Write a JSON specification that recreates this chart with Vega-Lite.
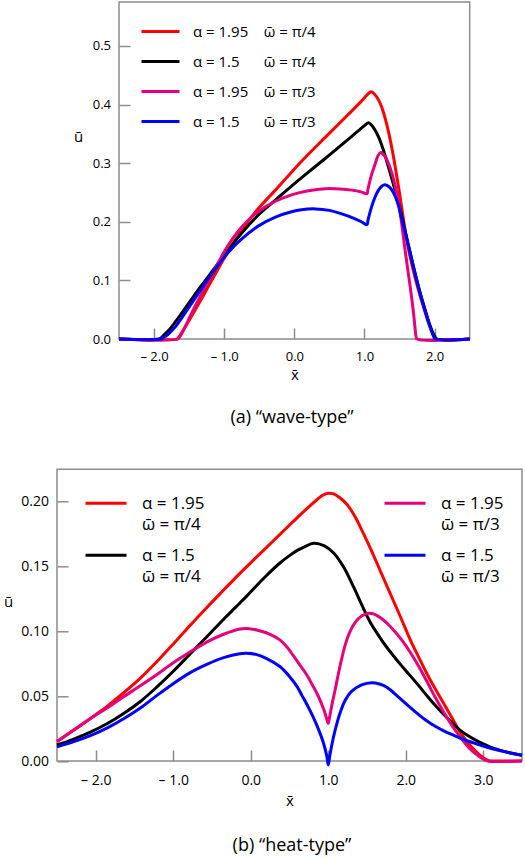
{
  "$schema": "https://vega.github.io/schema/vega-lite/v6.json",
  "autosize": {"type": "pad"},
  "padding": {"left": 3, "top": 1, "right": 3, "bottom": 5},
  "background": "white",
  "bounds": "flush",
  "spacing": 130.3,
  "datasets": {
    "wave": [
      {"s": "α = 1.95, ω̄ = π/4", "x": -2.5, "u": 0},
      {"s": "α = 1.95, ω̄ = π/4", "x": -1.67, "u": 0},
      {"s": "α = 1.95, ω̄ = π/4", "x": -1.655, "u": 0.002},
      {"s": "α = 1.95, ω̄ = π/4", "x": -1.6, "u": 0.012},
      {"s": "α = 1.95, ω̄ = π/4", "x": -1.47, "u": 0.038},
      {"s": "α = 1.95, ω̄ = π/4", "x": -1.35, "u": 0.063},
      {"s": "α = 1.95, ω̄ = π/4", "x": -1.23, "u": 0.089},
      {"s": "α = 1.95, ω̄ = π/4", "x": -1.1, "u": 0.117},
      {"s": "α = 1.95, ω̄ = π/4", "x": -0.99, "u": 0.14},
      {"s": "α = 1.95, ω̄ = π/4", "x": -0.75, "u": 0.186},
      {"s": "α = 1.95, ω̄ = π/4", "x": -0.51, "u": 0.223},
      {"s": "α = 1.95, ω̄ = π/4", "x": -0.27, "u": 0.254},
      {"s": "α = 1.95, ω̄ = π/4", "x": 0.1, "u": 0.303},
      {"s": "α = 1.95, ω̄ = π/4", "x": 0.44, "u": 0.344},
      {"s": "α = 1.95, ω̄ = π/4", "x": 0.75, "u": 0.381},
      {"s": "α = 1.95, ω̄ = π/4", "x": 0.95, "u": 0.405},
      {"s": "α = 1.95, ω̄ = π/4", "x": 1.04, "u": 0.417},
      {"s": "α = 1.95, ω̄ = π/4", "x": 1.095, "u": 0.422},
      {"s": "α = 1.95, ω̄ = π/4", "x": 1.14, "u": 0.418},
      {"s": "α = 1.95, ω̄ = π/4", "x": 1.2, "u": 0.408},
      {"s": "α = 1.95, ω̄ = π/4", "x": 1.25, "u": 0.394},
      {"s": "α = 1.95, ω̄ = π/4", "x": 1.32, "u": 0.365},
      {"s": "α = 1.95, ω̄ = π/4", "x": 1.39, "u": 0.326},
      {"s": "α = 1.95, ω̄ = π/4", "x": 1.49, "u": 0.256},
      {"s": "α = 1.95, ω̄ = π/4", "x": 1.58, "u": 0.185},
      {"s": "α = 1.95, ω̄ = π/4", "x": 1.63, "u": 0.152},
      {"s": "α = 1.95, ω̄ = π/4", "x": 1.7, "u": 0.115},
      {"s": "α = 1.95, ω̄ = π/4", "x": 1.77, "u": 0.083},
      {"s": "α = 1.95, ω̄ = π/4", "x": 1.866, "u": 0.045},
      {"s": "α = 1.95, ω̄ = π/4", "x": 1.92, "u": 0.025},
      {"s": "α = 1.95, ω̄ = π/4", "x": 1.96, "u": 0.013},
      {"s": "α = 1.95, ω̄ = π/4", "x": 2.0, "u": 0.004},
      {"s": "α = 1.95, ω̄ = π/4", "x": 2.03, "u": 0},
      {"s": "α = 1.95, ω̄ = π/4", "x": 2.5, "u": 0},
      {"s": "α = 1.5, ω̄ = π/4", "x": -2.5, "u": 0},
      {"s": "α = 1.5, ω̄ = π/4", "x": -1.93, "u": 0},
      {"s": "α = 1.5, ω̄ = π/4", "x": -1.9, "u": 0.002},
      {"s": "α = 1.5, ω̄ = π/4", "x": -1.85, "u": 0.008},
      {"s": "α = 1.5, ω̄ = π/4", "x": -1.78, "u": 0.016},
      {"s": "α = 1.5, ω̄ = π/4", "x": -1.71, "u": 0.027},
      {"s": "α = 1.5, ω̄ = π/4", "x": -1.6, "u": 0.045},
      {"s": "α = 1.5, ω̄ = π/4", "x": -1.47, "u": 0.067},
      {"s": "α = 1.5, ω̄ = π/4", "x": -1.35, "u": 0.087},
      {"s": "α = 1.5, ω̄ = π/4", "x": -1.23, "u": 0.106},
      {"s": "α = 1.5, ω̄ = π/4", "x": -1.1, "u": 0.127},
      {"s": "α = 1.5, ω̄ = π/4", "x": -0.99, "u": 0.145},
      {"s": "α = 1.5, ω̄ = π/4", "x": -0.75, "u": 0.181},
      {"s": "α = 1.5, ω̄ = π/4", "x": -0.51, "u": 0.212},
      {"s": "α = 1.5, ω̄ = π/4", "x": -0.27, "u": 0.237},
      {"s": "α = 1.5, ω̄ = π/4", "x": -0.04, "u": 0.261},
      {"s": "α = 1.5, ω̄ = π/4", "x": 0.1, "u": 0.275},
      {"s": "α = 1.5, ω̄ = π/4", "x": 0.44, "u": 0.308},
      {"s": "α = 1.5, ω̄ = π/4", "x": 0.75, "u": 0.339},
      {"s": "α = 1.5, ω̄ = π/4", "x": 0.91, "u": 0.355},
      {"s": "α = 1.5, ω̄ = π/4", "x": 1.0, "u": 0.364},
      {"s": "α = 1.5, ω̄ = π/4", "x": 1.057, "u": 0.369},
      {"s": "α = 1.5, ω̄ = π/4", "x": 1.1, "u": 0.365},
      {"s": "α = 1.5, ω̄ = π/4", "x": 1.2, "u": 0.345},
      {"s": "α = 1.5, ω̄ = π/4", "x": 1.27, "u": 0.322},
      {"s": "α = 1.5, ω̄ = π/4", "x": 1.34, "u": 0.294},
      {"s": "α = 1.5, ω̄ = π/4", "x": 1.49, "u": 0.23},
      {"s": "α = 1.5, ω̄ = π/4", "x": 1.63, "u": 0.158},
      {"s": "α = 1.5, ω̄ = π/4", "x": 1.77, "u": 0.089},
      {"s": "α = 1.5, ω̄ = π/4", "x": 1.866, "u": 0.049},
      {"s": "α = 1.5, ω̄ = π/4", "x": 1.92, "u": 0.028},
      {"s": "α = 1.5, ω̄ = π/4", "x": 1.96, "u": 0.015},
      {"s": "α = 1.5, ω̄ = π/4", "x": 2.0, "u": 0.005},
      {"s": "α = 1.5, ω̄ = π/4", "x": 2.03, "u": 0},
      {"s": "α = 1.5, ω̄ = π/4", "x": 2.5, "u": 0},
      {"s": "α = 1.95, ω̄ = π/3", "x": -2.5, "u": 0},
      {"s": "α = 1.95, ω̄ = π/3", "x": -1.66, "u": 0},
      {"s": "α = 1.95, ω̄ = π/3", "x": -1.645, "u": 0.002},
      {"s": "α = 1.95, ω̄ = π/3", "x": -1.58, "u": 0.015},
      {"s": "α = 1.95, ω̄ = π/3", "x": -1.47, "u": 0.043},
      {"s": "α = 1.95, ω̄ = π/3", "x": -1.35, "u": 0.071},
      {"s": "α = 1.95, ω̄ = π/3", "x": -1.23, "u": 0.099},
      {"s": "α = 1.95, ω̄ = π/3", "x": -1.1, "u": 0.127},
      {"s": "α = 1.95, ω̄ = π/3", "x": -0.99, "u": 0.151},
      {"s": "α = 1.95, ω̄ = π/3", "x": -0.87, "u": 0.173},
      {"s": "α = 1.95, ω̄ = π/3", "x": -0.75, "u": 0.191},
      {"s": "α = 1.95, ω̄ = π/3", "x": -0.63, "u": 0.206},
      {"s": "α = 1.95, ω̄ = π/3", "x": -0.51, "u": 0.218},
      {"s": "α = 1.95, ω̄ = π/3", "x": -0.27, "u": 0.235},
      {"s": "α = 1.95, ω̄ = π/3", "x": -0.04, "u": 0.246},
      {"s": "α = 1.95, ω̄ = π/3", "x": 0.2, "u": 0.253},
      {"s": "α = 1.95, ω̄ = π/3", "x": 0.44, "u": 0.2565},
      {"s": "α = 1.95, ω̄ = π/3", "x": 0.65, "u": 0.256},
      {"s": "α = 1.95, ω̄ = π/3", "x": 0.82, "u": 0.254},
      {"s": "α = 1.95, ω̄ = π/3", "x": 0.95, "u": 0.251},
      {"s": "α = 1.95, ω̄ = π/3", "x": 1.035, "u": 0.248},
      {"s": "α = 1.95, ω̄ = π/3", "x": 1.05, "u": 0.256},
      {"s": "α = 1.95, ω̄ = π/3", "x": 1.1, "u": 0.28},
      {"s": "α = 1.95, ω̄ = π/3", "x": 1.15, "u": 0.298},
      {"s": "α = 1.95, ω̄ = π/3", "x": 1.19, "u": 0.312},
      {"s": "α = 1.95, ω̄ = π/3", "x": 1.225, "u": 0.318},
      {"s": "α = 1.95, ω̄ = π/3", "x": 1.26, "u": 0.316},
      {"s": "α = 1.95, ω̄ = π/3", "x": 1.3, "u": 0.31},
      {"s": "α = 1.95, ω̄ = π/3", "x": 1.34, "u": 0.3},
      {"s": "α = 1.95, ω̄ = π/3", "x": 1.39, "u": 0.283},
      {"s": "α = 1.95, ω̄ = π/3", "x": 1.44, "u": 0.26},
      {"s": "α = 1.95, ω̄ = π/3", "x": 1.49, "u": 0.23},
      {"s": "α = 1.95, ω̄ = π/3", "x": 1.53, "u": 0.197},
      {"s": "α = 1.95, ω̄ = π/3", "x": 1.57, "u": 0.16},
      {"s": "α = 1.95, ω̄ = π/3", "x": 1.6, "u": 0.133},
      {"s": "α = 1.95, ω̄ = π/3", "x": 1.64, "u": 0.099},
      {"s": "α = 1.95, ω̄ = π/3", "x": 1.676, "u": 0.067},
      {"s": "α = 1.95, ω̄ = π/3", "x": 1.7, "u": 0.043},
      {"s": "α = 1.95, ω̄ = π/3", "x": 1.72, "u": 0.02},
      {"s": "α = 1.95, ω̄ = π/3", "x": 1.735, "u": 0.004},
      {"s": "α = 1.95, ω̄ = π/3", "x": 1.75, "u": 0},
      {"s": "α = 1.95, ω̄ = π/3", "x": 2.5, "u": 0},
      {"s": "α = 1.5, ω̄ = π/3", "x": -2.5, "u": 0},
      {"s": "α = 1.5, ω̄ = π/3", "x": -1.9, "u": 0},
      {"s": "α = 1.5, ω̄ = π/3", "x": -1.87, "u": 0.002},
      {"s": "α = 1.5, ω̄ = π/3", "x": -1.8, "u": 0.008},
      {"s": "α = 1.5, ω̄ = π/3", "x": -1.71, "u": 0.019},
      {"s": "α = 1.5, ω̄ = π/3", "x": -1.6, "u": 0.037},
      {"s": "α = 1.5, ω̄ = π/3", "x": -1.47, "u": 0.06},
      {"s": "α = 1.5, ω̄ = π/3", "x": -1.35, "u": 0.081},
      {"s": "α = 1.5, ω̄ = π/3", "x": -1.23, "u": 0.102},
      {"s": "α = 1.5, ω̄ = π/3", "x": -1.1, "u": 0.124},
      {"s": "α = 1.5, ω̄ = π/3", "x": -0.99, "u": 0.141},
      {"s": "α = 1.5, ω̄ = π/3", "x": -0.87, "u": 0.157},
      {"s": "α = 1.5, ω̄ = π/3", "x": -0.75, "u": 0.171},
      {"s": "α = 1.5, ω̄ = π/3", "x": -0.51, "u": 0.193},
      {"s": "α = 1.5, ω̄ = π/3", "x": -0.27, "u": 0.208},
      {"s": "α = 1.5, ω̄ = π/3", "x": -0.04, "u": 0.217},
      {"s": "α = 1.5, ω̄ = π/3", "x": 0.1, "u": 0.2205},
      {"s": "α = 1.5, ω̄ = π/3", "x": 0.3, "u": 0.222},
      {"s": "α = 1.5, ω̄ = π/3", "x": 0.5, "u": 0.2195},
      {"s": "α = 1.5, ω̄ = π/3", "x": 0.676, "u": 0.2135},
      {"s": "α = 1.5, ω̄ = π/3", "x": 0.85, "u": 0.206},
      {"s": "α = 1.5, ω̄ = π/3", "x": 0.95, "u": 0.2005},
      {"s": "α = 1.5, ω̄ = π/3", "x": 1.035, "u": 0.195},
      {"s": "α = 1.5, ω̄ = π/3", "x": 1.05, "u": 0.203},
      {"s": "α = 1.5, ω̄ = π/3", "x": 1.1, "u": 0.225},
      {"s": "α = 1.5, ω̄ = π/3", "x": 1.15, "u": 0.242},
      {"s": "α = 1.5, ω̄ = π/3", "x": 1.2, "u": 0.254},
      {"s": "α = 1.5, ω̄ = π/3", "x": 1.25, "u": 0.261},
      {"s": "α = 1.5, ω̄ = π/3", "x": 1.28, "u": 0.263},
      {"s": "α = 1.5, ω̄ = π/3", "x": 1.32, "u": 0.262},
      {"s": "α = 1.5, ω̄ = π/3", "x": 1.38, "u": 0.256},
      {"s": "α = 1.5, ω̄ = π/3", "x": 1.44, "u": 0.243},
      {"s": "α = 1.5, ω̄ = π/3", "x": 1.49, "u": 0.225},
      {"s": "α = 1.5, ω̄ = π/3", "x": 1.53, "u": 0.205},
      {"s": "α = 1.5, ω̄ = π/3", "x": 1.58, "u": 0.182},
      {"s": "α = 1.5, ω̄ = π/3", "x": 1.63, "u": 0.158},
      {"s": "α = 1.5, ω̄ = π/3", "x": 1.7, "u": 0.122},
      {"s": "α = 1.5, ω̄ = π/3", "x": 1.77, "u": 0.089},
      {"s": "α = 1.5, ω̄ = π/3", "x": 1.84, "u": 0.058},
      {"s": "α = 1.5, ω̄ = π/3", "x": 1.91, "u": 0.03},
      {"s": "α = 1.5, ω̄ = π/3", "x": 1.96, "u": 0.012},
      {"s": "α = 1.5, ω̄ = π/3", "x": 1.99, "u": 0.003},
      {"s": "α = 1.5, ω̄ = π/3", "x": 2.01, "u": 0},
      {"s": "α = 1.5, ω̄ = π/3", "x": 2.5, "u": 0}
    ],
    "heat": [
      {"s": "α = 1.95, ω̄ = π/4", "x": -2.5, "u": 0.015},
      {"s": "α = 1.95, ω̄ = π/4", "x": -2.3, "u": 0.0232},
      {"s": "α = 1.95, ω̄ = π/4", "x": -2.07, "u": 0.0328},
      {"s": "α = 1.95, ω̄ = π/4", "x": -1.85, "u": 0.0422},
      {"s": "α = 1.95, ω̄ = π/4", "x": -1.64, "u": 0.0525},
      {"s": "α = 1.95, ω̄ = π/4", "x": -1.42, "u": 0.064},
      {"s": "α = 1.95, ω̄ = π/4", "x": -1.21, "u": 0.0765},
      {"s": "α = 1.95, ω̄ = π/4", "x": -1.0, "u": 0.09},
      {"s": "α = 1.95, ω̄ = π/4", "x": -0.78, "u": 0.1045},
      {"s": "α = 1.95, ω̄ = π/4", "x": -0.56, "u": 0.1185},
      {"s": "α = 1.95, ω̄ = π/4", "x": -0.35, "u": 0.1315},
      {"s": "α = 1.95, ω̄ = π/4", "x": -0.15, "u": 0.1438},
      {"s": "α = 1.95, ω̄ = π/4", "x": 0.077, "u": 0.157},
      {"s": "α = 1.95, ω̄ = π/4", "x": 0.38, "u": 0.1745},
      {"s": "α = 1.95, ω̄ = π/4", "x": 0.6, "u": 0.1872},
      {"s": "α = 1.95, ω̄ = π/4", "x": 0.75, "u": 0.1955},
      {"s": "α = 1.95, ω̄ = π/4", "x": 0.85, "u": 0.2008},
      {"s": "α = 1.95, ω̄ = π/4", "x": 0.93, "u": 0.2045},
      {"s": "α = 1.95, ω̄ = π/4", "x": 1.0, "u": 0.206},
      {"s": "α = 1.95, ω̄ = π/4", "x": 1.07, "u": 0.2055},
      {"s": "α = 1.95, ω̄ = π/4", "x": 1.15, "u": 0.2025},
      {"s": "α = 1.95, ω̄ = π/4", "x": 1.24, "u": 0.1975},
      {"s": "α = 1.95, ω̄ = π/4", "x": 1.35, "u": 0.1875},
      {"s": "α = 1.95, ω̄ = π/4", "x": 1.45, "u": 0.1755},
      {"s": "α = 1.95, ω̄ = π/4", "x": 1.56, "u": 0.1615},
      {"s": "α = 1.95, ω̄ = π/4", "x": 1.67, "u": 0.1465},
      {"s": "α = 1.95, ω̄ = π/4", "x": 1.78, "u": 0.1315},
      {"s": "α = 1.95, ω̄ = π/4", "x": 1.92, "u": 0.1125},
      {"s": "α = 1.95, ω̄ = π/4", "x": 2.06, "u": 0.093},
      {"s": "α = 1.95, ω̄ = π/4", "x": 2.17, "u": 0.0795},
      {"s": "α = 1.95, ω̄ = π/4", "x": 2.27, "u": 0.0675},
      {"s": "α = 1.95, ω̄ = π/4", "x": 2.38, "u": 0.0555},
      {"s": "α = 1.95, ω̄ = π/4", "x": 2.49, "u": 0.0443},
      {"s": "α = 1.95, ω̄ = π/4", "x": 2.6, "u": 0.0328},
      {"s": "α = 1.95, ω̄ = π/4", "x": 2.7, "u": 0.0225},
      {"s": "α = 1.95, ω̄ = π/4", "x": 2.81, "u": 0.0135},
      {"s": "α = 1.95, ω̄ = π/4", "x": 2.92, "u": 0.0065},
      {"s": "α = 1.95, ω̄ = π/4", "x": 3.0, "u": 0.0025},
      {"s": "α = 1.95, ω̄ = π/4", "x": 3.07, "u": 0.0002},
      {"s": "α = 1.95, ω̄ = π/4", "x": 3.12, "u": 0},
      {"s": "α = 1.95, ω̄ = π/4", "x": 3.5, "u": 0},
      {"s": "α = 1.5, ω̄ = π/4", "x": -2.5, "u": 0.0123},
      {"s": "α = 1.5, ω̄ = π/4", "x": -2.3, "u": 0.0165},
      {"s": "α = 1.5, ω̄ = π/4", "x": -2.07, "u": 0.0222},
      {"s": "α = 1.5, ω̄ = π/4", "x": -1.85, "u": 0.0288},
      {"s": "α = 1.5, ω̄ = π/4", "x": -1.64, "u": 0.0365},
      {"s": "α = 1.5, ω̄ = π/4", "x": -1.42, "u": 0.046},
      {"s": "α = 1.5, ω̄ = π/4", "x": -1.21, "u": 0.057},
      {"s": "α = 1.5, ω̄ = π/4", "x": -1.0, "u": 0.069},
      {"s": "α = 1.5, ω̄ = π/4", "x": -0.78, "u": 0.0825},
      {"s": "α = 1.5, ω̄ = π/4", "x": -0.56, "u": 0.096},
      {"s": "α = 1.5, ω̄ = π/4", "x": -0.35, "u": 0.109},
      {"s": "α = 1.5, ω̄ = π/4", "x": -0.2, "u": 0.118},
      {"s": "α = 1.5, ω̄ = π/4", "x": -0.05, "u": 0.127},
      {"s": "α = 1.5, ω̄ = π/4", "x": 0.077, "u": 0.135},
      {"s": "α = 1.5, ω̄ = π/4", "x": 0.2, "u": 0.1425},
      {"s": "α = 1.5, ω̄ = π/4", "x": 0.38, "u": 0.1525},
      {"s": "α = 1.5, ω̄ = π/4", "x": 0.5, "u": 0.158},
      {"s": "α = 1.5, ω̄ = π/4", "x": 0.6, "u": 0.162},
      {"s": "α = 1.5, ω̄ = π/4", "x": 0.7, "u": 0.165},
      {"s": "α = 1.5, ω̄ = π/4", "x": 0.81, "u": 0.1675},
      {"s": "α = 1.5, ω̄ = π/4", "x": 0.95, "u": 0.1655},
      {"s": "α = 1.5, ω̄ = π/4", "x": 1.07, "u": 0.16},
      {"s": "α = 1.5, ω̄ = π/4", "x": 1.2, "u": 0.149},
      {"s": "α = 1.5, ω̄ = π/4", "x": 1.33, "u": 0.1335},
      {"s": "α = 1.5, ω̄ = π/4", "x": 1.43, "u": 0.1205},
      {"s": "α = 1.5, ω̄ = π/4", "x": 1.54, "u": 0.107},
      {"s": "α = 1.5, ω̄ = π/4", "x": 1.65, "u": 0.0965},
      {"s": "α = 1.5, ω̄ = π/4", "x": 1.755, "u": 0.0875},
      {"s": "α = 1.5, ω̄ = π/4", "x": 1.84, "u": 0.081},
      {"s": "α = 1.5, ω̄ = π/4", "x": 1.95, "u": 0.073},
      {"s": "α = 1.5, ω̄ = π/4", "x": 2.06, "u": 0.0655},
      {"s": "α = 1.5, ω̄ = π/4", "x": 2.17, "u": 0.0578},
      {"s": "α = 1.5, ω̄ = π/4", "x": 2.27, "u": 0.0505},
      {"s": "α = 1.5, ω̄ = π/4", "x": 2.38, "u": 0.0428},
      {"s": "α = 1.5, ω̄ = π/4", "x": 2.49, "u": 0.0358},
      {"s": "α = 1.5, ω̄ = π/4", "x": 2.6, "u": 0.0293},
      {"s": "α = 1.5, ω̄ = π/4", "x": 2.7, "u": 0.0238},
      {"s": "α = 1.5, ω̄ = π/4", "x": 2.81, "u": 0.0192},
      {"s": "α = 1.5, ω̄ = π/4", "x": 2.92, "u": 0.0155},
      {"s": "α = 1.5, ω̄ = π/4", "x": 3.13, "u": 0.0099},
      {"s": "α = 1.5, ω̄ = π/4", "x": 3.35, "u": 0.0062},
      {"s": "α = 1.5, ω̄ = π/4", "x": 3.5, "u": 0.0045},
      {"s": "α = 1.95, ω̄ = π/3", "x": -2.5, "u": 0.015},
      {"s": "α = 1.95, ω̄ = π/3", "x": -2.3, "u": 0.023},
      {"s": "α = 1.95, ω̄ = π/3", "x": -2.07, "u": 0.0325},
      {"s": "α = 1.95, ω̄ = π/3", "x": -1.85, "u": 0.041},
      {"s": "α = 1.95, ω̄ = π/3", "x": -1.64, "u": 0.0495},
      {"s": "α = 1.95, ω̄ = π/3", "x": -1.42, "u": 0.058},
      {"s": "α = 1.95, ω̄ = π/3", "x": -1.21, "u": 0.0665},
      {"s": "α = 1.95, ω̄ = π/3", "x": -1.0, "u": 0.0755},
      {"s": "α = 1.95, ω̄ = π/3", "x": -0.78, "u": 0.084},
      {"s": "α = 1.95, ω̄ = π/3", "x": -0.57, "u": 0.0915},
      {"s": "α = 1.95, ω̄ = π/3", "x": -0.35, "u": 0.0975},
      {"s": "α = 1.95, ω̄ = π/3", "x": -0.14, "u": 0.1015},
      {"s": "α = 1.95, ω̄ = π/3", "x": -0.05, "u": 0.102},
      {"s": "α = 1.95, ω̄ = π/3", "x": 0.077, "u": 0.1008},
      {"s": "α = 1.95, ω̄ = π/3", "x": 0.25, "u": 0.0975},
      {"s": "α = 1.95, ω̄ = π/3", "x": 0.38, "u": 0.093},
      {"s": "α = 1.95, ω̄ = π/3", "x": 0.47, "u": 0.0875},
      {"s": "α = 1.95, ω̄ = π/3", "x": 0.55, "u": 0.081},
      {"s": "α = 1.95, ω̄ = π/3", "x": 0.65, "u": 0.0725},
      {"s": "α = 1.95, ω̄ = π/3", "x": 0.72, "u": 0.0665},
      {"s": "α = 1.95, ω̄ = π/3", "x": 0.8, "u": 0.058},
      {"s": "α = 1.95, ω̄ = π/3", "x": 0.87, "u": 0.05},
      {"s": "α = 1.95, ω̄ = π/3", "x": 0.94, "u": 0.04},
      {"s": "α = 1.95, ω̄ = π/3", "x": 0.98, "u": 0.0325},
      {"s": "α = 1.95, ω̄ = π/3", "x": 1.0, "u": 0.029},
      {"s": "α = 1.95, ω̄ = π/3", "x": 1.015, "u": 0.033},
      {"s": "α = 1.95, ω̄ = π/3", "x": 1.04, "u": 0.041},
      {"s": "α = 1.95, ω̄ = π/3", "x": 1.088, "u": 0.0546},
      {"s": "α = 1.95, ω̄ = π/3", "x": 1.15, "u": 0.0725},
      {"s": "α = 1.95, ω̄ = π/3", "x": 1.217, "u": 0.089},
      {"s": "α = 1.95, ω̄ = π/3", "x": 1.28, "u": 0.0995},
      {"s": "α = 1.95, ω̄ = π/3", "x": 1.346, "u": 0.1065},
      {"s": "α = 1.95, ω̄ = π/3", "x": 1.43, "u": 0.1115},
      {"s": "α = 1.95, ω̄ = π/3", "x": 1.52, "u": 0.1136},
      {"s": "α = 1.95, ω̄ = π/3", "x": 1.6, "u": 0.1128},
      {"s": "α = 1.95, ω̄ = π/3", "x": 1.7, "u": 0.109},
      {"s": "α = 1.95, ω̄ = π/3", "x": 1.8, "u": 0.1035},
      {"s": "α = 1.95, ω̄ = π/3", "x": 1.95, "u": 0.093},
      {"s": "α = 1.95, ω̄ = π/3", "x": 2.06, "u": 0.0835},
      {"s": "α = 1.95, ω̄ = π/3", "x": 2.17, "u": 0.0725},
      {"s": "α = 1.95, ω̄ = π/3", "x": 2.27, "u": 0.0615},
      {"s": "α = 1.95, ω̄ = π/3", "x": 2.38, "u": 0.049},
      {"s": "α = 1.95, ω̄ = π/3", "x": 2.49, "u": 0.0375},
      {"s": "α = 1.95, ω̄ = π/3", "x": 2.6, "u": 0.027},
      {"s": "α = 1.95, ω̄ = π/3", "x": 2.7, "u": 0.0187},
      {"s": "α = 1.95, ω̄ = π/3", "x": 2.81, "u": 0.0105},
      {"s": "α = 1.95, ω̄ = π/3", "x": 2.92, "u": 0.0048},
      {"s": "α = 1.95, ω̄ = π/3", "x": 3.0, "u": 0.0015},
      {"s": "α = 1.95, ω̄ = π/3", "x": 3.06, "u": 0},
      {"s": "α = 1.95, ω̄ = π/3", "x": 3.5, "u": 0},
      {"s": "α = 1.5, ω̄ = π/3", "x": -2.5, "u": 0.011},
      {"s": "α = 1.5, ω̄ = π/3", "x": -2.3, "u": 0.0145},
      {"s": "α = 1.5, ω̄ = π/3", "x": -2.07, "u": 0.0195},
      {"s": "α = 1.5, ω̄ = π/3", "x": -1.85, "u": 0.0255},
      {"s": "α = 1.5, ω̄ = π/3", "x": -1.64, "u": 0.0325},
      {"s": "α = 1.5, ω̄ = π/3", "x": -1.42, "u": 0.041},
      {"s": "α = 1.5, ω̄ = π/3", "x": -1.21, "u": 0.0505},
      {"s": "α = 1.5, ω̄ = π/3", "x": -1.0, "u": 0.0595},
      {"s": "α = 1.5, ω̄ = π/3", "x": -0.78, "u": 0.068},
      {"s": "α = 1.5, ω̄ = π/3", "x": -0.56, "u": 0.0745},
      {"s": "α = 1.5, ω̄ = π/3", "x": -0.35, "u": 0.0795},
      {"s": "α = 1.5, ω̄ = π/3", "x": -0.14, "u": 0.0825},
      {"s": "α = 1.5, ω̄ = π/3", "x": -0.05, "u": 0.0828},
      {"s": "α = 1.5, ω̄ = π/3", "x": 0.077, "u": 0.0818},
      {"s": "α = 1.5, ω̄ = π/3", "x": 0.2, "u": 0.079},
      {"s": "α = 1.5, ω̄ = π/3", "x": 0.38, "u": 0.0725},
      {"s": "α = 1.5, ω̄ = π/3", "x": 0.5, "u": 0.065},
      {"s": "α = 1.5, ω̄ = π/3", "x": 0.6, "u": 0.057},
      {"s": "α = 1.5, ω̄ = π/3", "x": 0.66, "u": 0.0505},
      {"s": "α = 1.5, ω̄ = π/3", "x": 0.72, "u": 0.044},
      {"s": "α = 1.5, ω̄ = π/3", "x": 0.8, "u": 0.0345},
      {"s": "α = 1.5, ω̄ = π/3", "x": 0.873, "u": 0.0245},
      {"s": "α = 1.5, ω̄ = π/3", "x": 0.94, "u": 0.0135},
      {"s": "α = 1.5, ω̄ = π/3", "x": 0.98, "u": 0.004},
      {"s": "α = 1.5, ω̄ = π/3", "x": 1.0, "u": -0.003},
      {"s": "α = 1.5, ω̄ = π/3", "x": 1.02, "u": 0.004},
      {"s": "α = 1.5, ω̄ = π/3", "x": 1.05, "u": 0.0135},
      {"s": "α = 1.5, ω̄ = π/3", "x": 1.088, "u": 0.0235},
      {"s": "α = 1.5, ω̄ = π/3", "x": 1.15, "u": 0.0365},
      {"s": "α = 1.5, ω̄ = π/3", "x": 1.217, "u": 0.0465},
      {"s": "α = 1.5, ω̄ = π/3", "x": 1.3, "u": 0.0535},
      {"s": "α = 1.5, ω̄ = π/3", "x": 1.43, "u": 0.0585},
      {"s": "α = 1.5, ω̄ = π/3", "x": 1.56, "u": 0.0602},
      {"s": "α = 1.5, ω̄ = π/3", "x": 1.66, "u": 0.0592},
      {"s": "α = 1.5, ω̄ = π/3", "x": 1.755, "u": 0.0568},
      {"s": "α = 1.5, ω̄ = π/3", "x": 1.84, "u": 0.0527},
      {"s": "α = 1.5, ω̄ = π/3", "x": 1.95, "u": 0.0468},
      {"s": "α = 1.5, ω̄ = π/3", "x": 2.06, "u": 0.041},
      {"s": "α = 1.5, ω̄ = π/3", "x": 2.17, "u": 0.0355},
      {"s": "α = 1.5, ω̄ = π/3", "x": 2.27, "u": 0.031},
      {"s": "α = 1.5, ω̄ = π/3", "x": 2.38, "u": 0.0267},
      {"s": "α = 1.5, ω̄ = π/3", "x": 2.49, "u": 0.0232},
      {"s": "α = 1.5, ω̄ = π/3", "x": 2.6, "u": 0.0202},
      {"s": "α = 1.5, ω̄ = π/3", "x": 2.7, "u": 0.0177},
      {"s": "α = 1.5, ω̄ = π/3", "x": 2.81, "u": 0.0152},
      {"s": "α = 1.5, ω̄ = π/3", "x": 2.92, "u": 0.013},
      {"s": "α = 1.5, ω̄ = π/3", "x": 3.13, "u": 0.0092},
      {"s": "α = 1.5, ω̄ = π/3", "x": 3.35, "u": 0.0062},
      {"s": "α = 1.5, ω̄ = π/3", "x": 3.5, "u": 0.0045}
    ]
  },
  "vconcat": [
    {
      "width": 465,
      "height": 337,
      "title": {"text": "(a) “wave-type”", "orient": "bottom", "anchor": "middle", "offset": 27, "dx": 2.5},
      "layer": [
        {
          "data": {"values": [{}]},
          "mark": {"type": "rect", "fill": null, "stroke": "#8c8c8c", "strokeWidth": 1.5},
          "encoding": {
            "x": {"datum": -2.5, "type": "quantitative"},
            "x2": {"datum": 2.5},
            "y": {"datum": 0, "type": "quantitative"},
            "y2": {"datum": 0.575}
          }
        },
        {
          "data": {"name": "wave"},
          "mark": {"type": "line", "interpolate": "catmull-rom", "strokeWidth": 3},
          "encoding": {
            "x": {"field": "x", "type": "quantitative",
              "scale": {"domain": [-2.5, 2.5], "range": [62, 412.7], "nice": false, "zero": false},
              "axis": {"title": "x̄", "values": [-2, -1, 0, 1, 2], "labelPadding": 22, "titlePadding": 4, "labelFontSize": 13,
                "labelExpr": "datum.value < 0 ? '– ' + format(-datum.value, '.1f') : format(datum.value, '.1f')"}},
            "y": {"field": "u", "type": "quantitative",
              "scale": {"domain": [0, 0.575], "nice": false, "zero": false},
              "axis": {"title": "ū", "offset": -62, "values": [0, 0.1, 0.2, 0.3, 0.4, 0.5], "format": ".1f", "labelPadding": 19.5, "labelFontSize": 13,
                "titleAngle": 0, "titleX": -41, "titleY": 134, "titleAlign": "center", "titleBaseline": "middle"}},
            "color": {"field": "s", "type": "nominal",
              "scale": {"domain": ["α = 1.95, ω̄ = π/4", "α = 1.5, ω̄ = π/4", "α = 1.95, ω̄ = π/3", "α = 1.5, ω̄ = π/3"],
                        "range": ["#ff0000", "#000000", "#e5007d", "#0000ff"]},
              "legend": {"orient": "none", "legendX": 83, "legendY": 9, "title": null,
                "symbolType": "stroke", "symbolSize": 1444, "symbolStrokeWidth": 3, "labelOffset": 12,
                "rowPadding": 1, "labelFontSize": 15, "labelLimit": 400,
                "labelExpr": "replace(replace(datum.label, '1.5,', '1.5\u2007,'), ', ', '\u00a0\u00a0\u00a0\u00a0')"}}
          }
        }
      ]
    },
    {
      "width": 465,
      "height": 291.7,
      "title": {"text": "(b) “heat-type”", "orient": "bottom", "anchor": "middle", "offset": 29, "dx": 2.5},
      "layer": [
        {
          "data": {"values": [{}]},
          "mark": {"type": "rect", "fill": null, "stroke": "#8c8c8c", "strokeWidth": 1.5},
          "encoding": {
            "x": {"datum": -2.5, "type": "quantitative"},
            "x2": {"datum": 3.5},
            "y": {"datum": 0, "type": "quantitative"},
            "y2": {"datum": 0.2244}
          }
        },
        {
          "data": {"name": "heat"},
          "mark": {"type": "line", "interpolate": "catmull-rom", "strokeWidth": 3},
          "encoding": {
            "x": {"field": "x", "type": "quantitative",
              "scale": {"domain": [-2.5, 3.5], "nice": false, "zero": false},
              "axis": {"title": "x̄", "values": [-2, -1, 0, 1, 2, 3], "labelPadding": 23, "titlePadding": 6, "labelFontSize": 14,
                "labelExpr": "datum.value < 0 ? '– ' + format(-datum.value, '.1f') : format(datum.value, '.1f')"}},
            "y": {"field": "u", "type": "quantitative",
              "scale": {"domain": [0, 0.2244], "nice": false, "zero": false},
              "axis": {"title": "ū", "values": [0, 0.05, 0.1, 0.15, 0.2], "format": ".2f", "labelPadding": 19.5, "labelFontSize": 14,
                "titleAngle": 0, "titleX": -49, "titleY": 132.4, "titleAlign": "center", "titleBaseline": "middle"}},
            "color": {"field": "s", "type": "nominal",
              "scale": {"domain": ["α = 1.95, ω̄ = π/4", "α = 1.5, ω̄ = π/4", "α = 1.95, ω̄ = π/3", "α = 1.5, ω̄ = π/3"],
                        "range": ["#ff0000", "#000000", "#e5007d", "#0000ff"]},
              "legend": {"orient": "none", "legendX": 27, "legendY": 12, "title": null, "columns": 2,
                "symbolType": "stroke", "symbolSize": 1681, "symbolStrokeWidth": 3, "labelOffset": 14,
                "rowPadding": -1, "columnPadding": 173, "labelFontSize": 17, "labelLimit": 400, "labelBaseline": "top",
                "labelExpr": "split(datum.label, ', ')",
                "encode": {"labels": {"update": {"dy": {"value": -7}, "lineHeight": {"value": 21}}}}}}
          }
        }
      ]
    }
  ],
  "resolve": {"scale": {"color": "independent", "x": "independent", "y": "independent"}, "legend": {"color": "independent"}},
  "config": {
    "font": "Open Sans",
    "view": {"stroke": null},
    "title": {"font": "Open Sans", "fontSize": 18, "fontWeight": "normal", "color": "#000"},
    "axis": {"labelFont": "Open Sans", "labelFontSize": 13, "labelColor": "#000", "titleFont": "Open Sans",
      "titleFontSize": 15, "titleFontWeight": "normal", "titleColor": "#000", "grid": false, "domain": false,
      "tickColor": "#8c8c8c", "tickWidth": 1.5, "tickSize": -11},
    "legend": {"labelFont": "Open Sans", "labelColor": "#000", "padding": 0}
  }
}
